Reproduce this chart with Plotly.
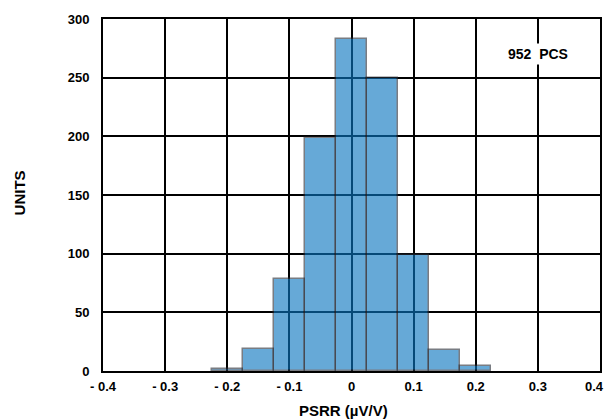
import plotly.graph_objects as go

# Histogram data (bin centers in µV/V, counts)
bin_centers = [-0.20, -0.15, -0.10, -0.05, 0.00, 0.05, 0.10, 0.15, 0.20]
counts = [2, 19, 78, 199, 283, 250, 99, 18, 4]
bin_width = 0.05

x_tick_vals = [-0.4, -0.3, -0.2, -0.1, 0, 0.1, 0.2, 0.3, 0.4]
x_tick_text = ["- 0.4", "- 0.3", "- 0.2", "- 0.1", "0", "0.1", "0.2", "0.3", "0.4"]
y_tick_vals = [0, 50, 100, 150, 200, 250, 300]

FONT = "Arial, 'Liberation Sans', sans-serif"

fig = go.Figure()
fig.add_trace(go.Bar(
    x=bin_centers,
    y=counts,
    width=[bin_width] * len(bin_centers),
    marker=dict(color="rgb(10,118,192)", opacity=0.62,
                line=dict(color="rgb(40,45,55)", width=1.5)),
    hoverinfo="x+y",
))

fig.update_layout(
    width=607, height=420,
    margin=dict(l=103, r=7, t=19, b=49, autoexpand=False),
    paper_bgcolor="white", plot_bgcolor="white",
    showlegend=False,
    bargap=0,
    font=dict(family=FONT, size=13, color="black", weight="bold"),
)
# last tick label (at the right edge) is drawn separately, nudged inward
fig.update_xaxes(
    range=[-0.4, 0.4],
    tickvals=x_tick_vals[:-1], ticktext=x_tick_text[:-1],
    showgrid=True, gridcolor="black", gridwidth=2,
    showline=True, linecolor="black", linewidth=2, mirror=True,
    zeroline=False, ticks="", ticklabelstandoff=2, automargin=False,
    tickfont=dict(family=FONT, size=13, color="black", weight="bold"),
)
fig.update_yaxes(
    range=[0, 300],
    tickvals=y_tick_vals,
    showgrid=True, gridcolor="black", gridwidth=2,
    showline=True, linecolor="black", linewidth=2, mirror=True,
    zeroline=False, ticks="", ticklabelstandoff=9, automargin=False,
    tickfont=dict(family=FONT, size=13, color="black", weight="bold"),
)

fig.add_annotation(
    x=x_tick_vals[-1], y=0, xref="x", yref="y",
    text=x_tick_text[-1], showarrow=False,
    xanchor="center", yanchor="middle", xshift=-5.5, yshift=-15,
    font=dict(family=FONT, size=13, color="black", weight="bold"),
)
fig.add_annotation(
    x=0.3, y=270, xref="x", yref="y",
    text="952  PCS", showarrow=False,
    bgcolor="white", borderpad=2,
    font=dict(family=FONT, size=14, color="black", weight="bold"),
)
fig.add_annotation(
    x=0.4835, y=-0.111, xref="paper", yref="paper",
    text="PSRR (µV/V)", showarrow=False, yanchor="middle",
    font=dict(family=FONT, size=15, color="black", weight="bold"),
)
fig.add_annotation(
    x=-0.168, y=0.506, xref="paper", yref="paper",
    text="UNITS", showarrow=False, textangle=-90, xanchor="center",
    font=dict(family=FONT, size=15, color="black", weight="bold"),
)

fig.write_html("out.html", config={"displayModeBar": False},
               post_script="document.body.style.margin='0';")
